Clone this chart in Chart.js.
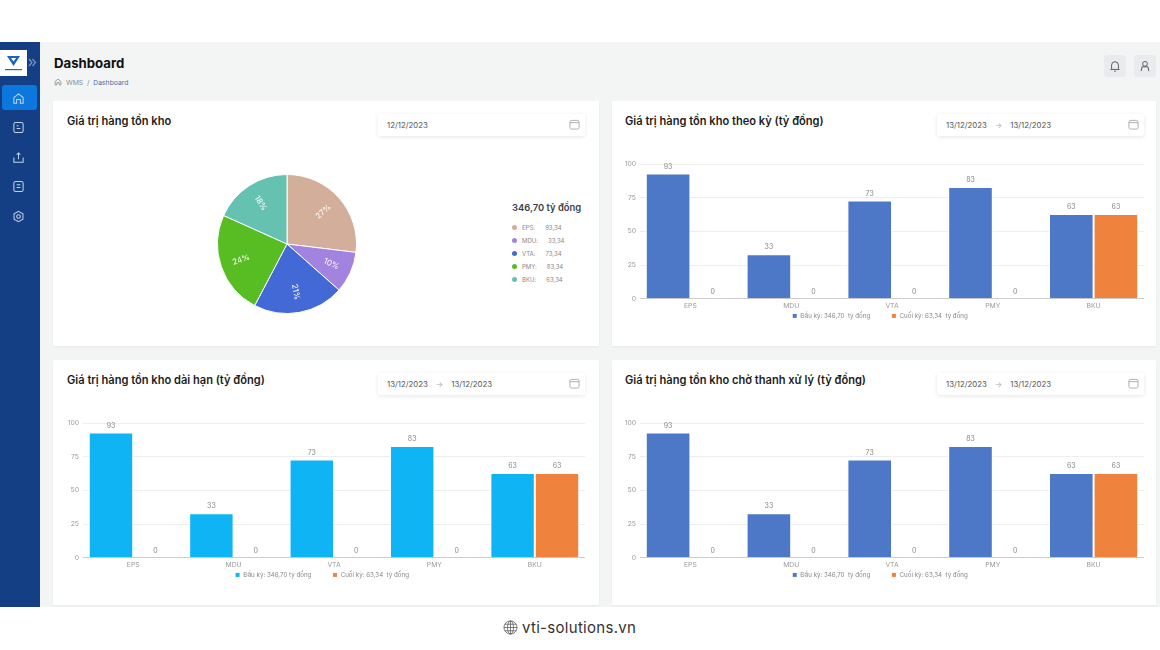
<!DOCTYPE html>
<html lang="vi">
<head>
<meta charset="utf-8">
<title>Dashboard</title>
<script src="https://cdn.jsdelivr.net/npm/chart.js@4"></script>
<style>
  * { box-sizing: border-box; }
  html, body { margin: 0; width: 1160px; height: 650px; overflow: hidden; background: #fff; font-family: Inter, "Noto Sans", sans-serif; }
  #main { position: absolute; left: 40px; top: 42px; width: 1120px; height: 565px; background: #f3f5f5; }
  #side { position: absolute; left: 0; top: 42px; width: 40px; height: 565px; background: #143f85; }
  #logo { position: absolute; left: 0; top: 8px; width: 27px; height: 26px; background: #fff; }
  #active { position: absolute; left: 2px; top: 43px; width: 35px; height: 25px; background: #0c78dd; border-radius: 3px; }
  .ico { position: absolute; left: 12px; width: 13px; height: 13px; fill: none; stroke: #c4d3ea; stroke-width: 1.1; }
  h1 { position: absolute; left: 54px; top: 55px; margin: 0; font-size: 13.2px; line-height: 17px; font-weight: 700; color: #111; }
  #crumb { position: absolute; left: 66px; top: 78px; font-size: 6.8px; line-height: 9px; color: #8a9099; }
  #crumb b { font-weight: 400; color: #4a6fa8; }
  .btn { position: absolute; top: 55px; width: 22px; height: 22px; border-radius: 3px; background: #e9ebef; }
  .btn svg { position: absolute; left: 5px; top: 5px; width: 12px; height: 12px; fill: none; stroke: #555; stroke-width: 1.1; }
  .card { position: absolute; width: 546px; height: 245px; background: #fff; box-shadow: 0 1px 2px rgba(0,0,0,.05); }
  .card h2 { position: absolute; left: 14px; top: 13px; margin: 0; font-size: 11.1px; line-height: 14px; font-weight: 600; color: #1c1c1c; white-space: nowrap; }
  .date { position: absolute; top: 13px; width: 207px; height: 22px; padding-left: 9px; font-size: 7.8px; line-height: 22px; color: #555; background: #fff; border-radius: 2px; box-shadow: 0 1px 4px rgba(0,0,0,.10); white-space: pre; }
  .date i { font-style: normal; color: #aaa; padding: 0 8px; }
  .date svg { position: absolute; right: 5px; top: 5px; width: 11px; height: 11px; fill: none; stroke: #aaa; stroke-width: 1; }
  canvas { position: absolute; }
  #pieLegend { position: absolute; left: 512px; top: 201px; color: #8a8a8a; font-size: 6px; }
  #pieLegend strong { display: block; font-size: 9.4px; line-height: 13px; font-weight: 600; color: #3a3f47; margin-bottom: 7px; white-space: nowrap; }
  #pieLegend div { position: relative; height: 13px; line-height: 13px; padding-left: 10px; white-space: pre; }
  #pieLegend span { position: absolute; left: 0; top: 4px; width: 5px; height: 5px; border-radius: 50%; }
  #foot { position: absolute; left: 522px; top: 619px; font-size: 15px; letter-spacing: .3px; line-height: 18px; color: #333; }
  #globe { position: absolute; left: 503px; top: 620px; width: 15px; height: 15px; fill: none; stroke: #555; stroke-width: .8; }
</style>
</head>
<body>
<div id="main"></div>
<div id="side">
  <div id="logo"><svg width="27" height="26"><path d="M7 6h13l-6.500 10z" fill="#1565c0"/><path d="M11 8h5l-2.500 3.500z" fill="#fff"/><rect x="5" y="19" width="17" height="1.200" fill="#3b5fa0"/></svg></div>
  <div id="active"></div>
  <svg class="ico" style="top:50px" viewBox="0 0 14 14"><path d="M2 6l5-4 5 4v6H9V8H5v4H2z"/></svg>
  <svg class="ico" style="top:79px" viewBox="0 0 14 14"><rect x="2" y="1.500" width="10" height="11" rx="2"/><path d="M5 5h2M5 8h4"/></svg>
  <svg class="ico" style="top:109px" viewBox="0 0 14 14"><path d="M2 7v5h10V7M7 9V2M5 4l2-2 2 2"/></svg>
  <svg class="ico" style="top:138px" viewBox="0 0 14 14"><rect x="2" y="1.500" width="10" height="11" rx="2"/><path d="M5 5h4M5 8h4"/></svg>
  <svg class="ico" style="top:168px" viewBox="0 0 14 14"><circle cx="7" cy="7" r="2"/><path d="M7 1.500l4.800 2.700v5.600L7 12.500 2.200 9.800V4.200z"/></svg>
</div>
<svg style="position:absolute;left:28px;top:58px" width="9" height="9" fill="none" stroke="#7f96bd" stroke-width="1.200"><path d="M1 1l3 3.500L1 8M4.500 1l3 3.500L4.500 8"/></svg>
<h1>Dashboard</h1>
<svg style="position:absolute;left:54px;top:78px" width="8" height="8" viewBox="0 0 14 14" fill="none" stroke="#777" stroke-width="1.200"><path d="M2 6l5-4 5 4v6H9V8H5v4H2z"/></svg>
<div id="crumb">WMS &nbsp;/&nbsp; <b>Dashboard</b></div>
<div class="btn" style="left:1104px"><svg viewBox="0 0 14 14"><path d="M3 10V6a4 4 0 018 0v4l1 1H2zM6 13h2"/></svg></div>
<div class="btn" style="left:1134px"><svg viewBox="0 0 14 14"><circle cx="7" cy="4.500" r="2.800"/><path d="M2.500 13l1-5h7l1 5"/></svg></div>

<div class="card" style="left:53px;top:101px">
  <h2>Giá trị hàng tồn kho</h2>
  <div class="date" style="left:325px">12/12/2023<svg viewBox="0 0 12 12"><rect x="1" y="1.500" width="10" height="9.500" rx="2"/><path d="M1 4h10"/></svg></div>
</div>
<div class="card" style="left:612px;top:101px;width:544px">
  <h2 style="left:13px">Giá trị hàng tồn kho theo kỳ (tỷ đồng)</h2>
  <div class="date" style="left:325px">13/12/2023<i>→</i>13/12/2023<svg viewBox="0 0 12 12"><rect x="1" y="1.500" width="10" height="9.500" rx="2"/><path d="M1 4h10"/></svg></div>
</div>
<div class="card" style="left:53px;top:360px">
  <h2>Giá trị hàng tồn kho dài hạn (tỷ đồng)</h2>
  <div class="date" style="left:325px">13/12/2023<i>→</i>13/12/2023<svg viewBox="0 0 12 12"><rect x="1" y="1.500" width="10" height="9.500" rx="2"/><path d="M1 4h10"/></svg></div>
</div>
<div class="card" style="left:612px;top:360px;width:544px">
  <h2 style="left:13px">Giá trị hàng tồn kho chờ thanh xử lý (tỷ đồng)</h2>
  <div class="date" style="left:325px">13/12/2023<i>→</i>13/12/2023<svg viewBox="0 0 12 12"><rect x="1" y="1.500" width="10" height="9.500" rx="2"/><path d="M1 4h10"/></svg></div>
</div>

<canvas id="pie" style="left:217px;top:174px;width:140px;height:140px" width="140" height="140"></canvas>
<div id="pieLegend"></div>

<canvas id="period" style="left:616px;top:155px;width:528px;height:174px" width="528" height="174"></canvas>
<canvas id="longTerm" style="left:59px;top:414px;width:526px;height:174px" width="526" height="174"></canvas>
<canvas id="pending" style="left:616px;top:414px;width:528px;height:174px" width="528" height="174"></canvas>

<svg id="globe" viewBox="0 0 16 16"><circle cx="8" cy="8" r="7"/><ellipse cx="8" cy="8" rx="3.200" ry="7"/><path d="M1 8h14M2 4.500h12M2 11.500h12M8 1v14"/></svg>
<div id="foot">vti-solutions.vn</div>

<script>
const categories = ["EPS", "MDU", "VTA", "PMY", "BKU"];
const startValues = [93, 33, 73, 83, 63];
const endValues = [0, 0, 0, 0, 63];
const yTicks = [0, 25, 50, 75, 100];

const pieValues = [93.34, 33.34, 73.34, 83.34, 63.34];
const pieLabels = ["27%", "10%", "21%", "24%", "18%"];
const pieValueText = ["93,34", "33,34", "73,34", "83,34", "63,34"];
const pieColors = ["#d3ae9a", "#a283e0", "#4369d6", "#58bd22", "#65c2b0"];
const pieTotal = "346,70 tỷ đồng";

// the legend has to stay one thin row, so the gap between items is in the text
const legendGap = "\u00a0".repeat(11);
const startLegend = "Đầu kỳ: 346,70  tỷ đồng" + legendGap;
const endLegend = "Cuối kỳ: 63,34  tỷ đồng";
const longStartLegend = "Đầu kỳ: 346,70 tỷ đồng" + legendGap;

const blue = "#4d78c7";
const skyBlue = "#0fb4f5";
const orange = "#ef823c";

const fontFamily = "Inter, 'Noto Sans', sans-serif";

// no datalabels plugin available, so value labels are drawn here
const barValues = {
  id: "barValues",
  afterDatasetsDraw(chart) {
    const ctx = chart.ctx;
    ctx.save();
    ctx.font = "7px " + fontFamily;
    ctx.fillStyle = "#888";
    ctx.textAlign = "center";
    ctx.textBaseline = "middle";
    chart.data.datasets.forEach((ds, i) => {
      chart.getDatasetMeta(i).data.forEach((bar, j) => {
        ctx.fillText(ds.data[j], bar.x, bar.y - 7);
      });
    });
    ctx.restore();
  },
};

const pieText = {
  id: "pieText",
  afterDatasetsDraw(chart) {
    const ctx = chart.ctx;
    ctx.save();
    ctx.font = "8px " + fontFamily;
    ctx.fillStyle = "#fff";
    ctx.textAlign = "center";
    ctx.textBaseline = "middle";
    chart.getDatasetMeta(0).data.forEach((arc, i) => {
      const mid = (arc.startAngle + arc.endAngle) / 2;
      const r = arc.outerRadius * 0.7;
      ctx.save();
      ctx.translate(arc.x + Math.cos(mid) * r, arc.y + Math.sin(mid) * r);
      ctx.rotate(Math.cos(mid) < 0 ? mid + Math.PI : mid);
      ctx.fillText(pieLabels[i], 0, 0);
      ctx.restore();
    });
    ctx.restore();
  },
};

new Chart(document.getElementById("pie"), {
  type: "pie",
  data: {
    labels: categories,
    datasets: [{ data: pieValues, backgroundColor: pieColors, borderColor: "#fff", borderWidth: 1 }],
  },
  options: {
    responsive: false,
    animation: false,
    plugins: { legend: { display: false }, tooltip: { enabled: false } },
  },
  plugins: [pieText],
});

const pieLegend = document.getElementById("pieLegend");
pieLegend.innerHTML = "<strong>" + pieTotal + "</strong>" + categories.map((name, i) =>
  '<div><span style="background:' + pieColors[i] + '"></span>' + name + ":      " + pieValueText[i] + "</div>"
).join("");

function drawBars(id, startColor, startLabel) {
  new Chart(document.getElementById(id), {
    type: "bar",
    data: {
      labels: categories,
      datasets: [
        { label: startLabel, data: startValues, backgroundColor: startColor, borderColor: "#fff", borderWidth: 1 },
        { label: endLegend, data: endValues, backgroundColor: orange, borderColor: "#fff", borderWidth: 1 },
      ],
    },
    options: {
      responsive: false,
      animation: false,
      layout: { padding: { top: 9 } },
      datasets: { bar: { categoryPercentage: 0.885, barPercentage: 1 } },
      scales: {
        x: {
          grid: { display: false, drawTicks: false },
          border: { color: "#ccc" },
          ticks: { color: "#999", font: { size: 6.8, family: fontFamily }, padding: 3 },
          afterFit(scale) { scale.height = 12; },
        },
        y: {
          min: 0,
          max: 100,
          afterBuildTicks(scale) { scale.ticks = yTicks.map((v) => ({ value: v })); },
          afterFit(scale) { scale.width = 24; },
          grid: { color: "#eee", drawTicks: false },
          border: { display: false },
          ticks: { color: "#999", font: { size: 6.8, family: fontFamily }, padding: 4 },
        },
      },
      plugins: {
        tooltip: { enabled: false },
        legend: {
          position: "bottom",
          labels: {
            usePointStyle: true,
            pointStyle: "rect",
            boxWidth: 5,
            boxHeight: 5,
            padding: 2,
            color: "#888",
            font: { size: 6.2, family: fontFamily },
          },
        },
      },
    },
    plugins: [barValues],
  });
}

drawBars("period", blue, startLegend);
drawBars("longTerm", skyBlue, longStartLegend);
drawBars("pending", blue, startLegend);
</script>
</body>
</html>
